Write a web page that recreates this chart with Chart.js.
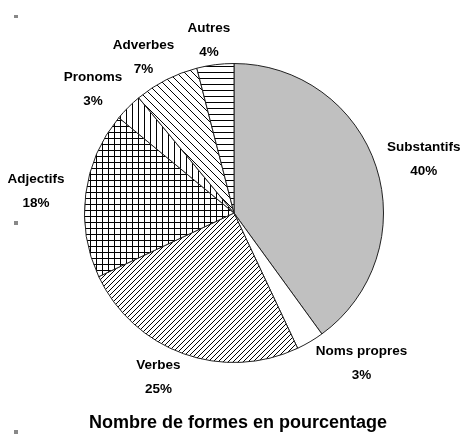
<!DOCTYPE html>
<html>
<head>
<meta charset="utf-8">
<script src="https://cdn.jsdelivr.net/npm/chart.js@4.4.0/dist/chart.umd.min.js"></script>
<style>
  html, body { margin: 0; padding: 0; background: #fff; }
  #wrap { width: 467px; height: 434px; }
</style>
</head>
<body>
<div id="wrap"><canvas id="myChart" width="467" height="434"></canvas></div>
<script>
const categories = ['Substantifs', 'Noms propres', 'Verbes', 'Adjectifs', 'Pronoms', 'Adverbes', 'Autres'];
const values = [40, 3, 25, 18, 3, 7, 4];
const chartTitle = 'Nombre de formes en pourcentage';

// hatch patterns, like the old black & white office charts
function makePattern(size, draw) {
  const c = document.createElement('canvas');
  c.width = size;
  c.height = size;
  const g = c.getContext('2d');
  g.fillStyle = '#fff';
  g.fillRect(0, 0, size, size);
  g.strokeStyle = '#000';
  g.lineWidth = 1;
  draw(g, size);
  return g.createPattern(c, 'repeat');
}

const diagUp = (g, s) => {
  g.beginPath();
  g.moveTo(0, s); g.lineTo(s, 0);
  g.moveTo(-1, 1); g.lineTo(1, -1);
  g.moveTo(s - 1, s + 1); g.lineTo(s + 1, s - 1);
  g.stroke();
};
const diagDown = (g, s) => {
  g.beginPath();
  g.moveTo(0, 0); g.lineTo(s, s);
  g.moveTo(-1, s - 1); g.lineTo(1, s + 1);
  g.moveTo(s - 1, -1); g.lineTo(s + 1, 1);
  g.stroke();
};
const vert = (g, s) => { g.beginPath(); g.moveTo(0.5, 0); g.lineTo(0.5, s); g.stroke(); };
const horiz = (g, s) => { g.beginPath(); g.moveTo(0, 0.5); g.lineTo(s, 0.5); g.stroke(); };
const grid = (g, s) => { vert(g, s); horiz(g, s); };

const fills = [
  '#c0c0c0',
  '#ffffff',
  makePattern(5, diagUp),
  makePattern(6, grid),
  makePattern(6, vert),
  makePattern(8, diagDown),
  makePattern(6, horiz)
];

// distance from pie centre to the nearest point of a text box
function boxDist(px, py, x0, x1, y0, y1) {
  const nx = Math.max(x0, Math.min(px, x1));
  const ny = Math.max(y0, Math.min(py, y1));
  return Math.hypot(nx - px, ny - py);
}

const outsideLabels = {
  id: 'outsideLabels',
  afterDatasetsDraw(chart) {
    const ctx = chart.ctx;
    const meta = chart.getDatasetMeta(0);
    const total = values.reduce((a, b) => a + b, 0);
    ctx.save();
    ctx.font = 'bold 13.5px "Liberation Sans", Arial, sans-serif';
    ctx.fillStyle = '#000';
    ctx.textAlign = 'center';
    ctx.textBaseline = 'middle';
    meta.data.forEach((arc, i) => {
      const p = arc.getProps(['x', 'y', 'startAngle', 'endAngle', 'outerRadius'], true);
      const mid = (p.startAngle + p.endAngle) / 2;
      const dx = Math.cos(mid), dy = Math.sin(mid);
      const pct = Math.round(values[i] / total * 100) + '%';
      const lines = [[categories[i], -12], [pct, 12]];
      let cx = p.x + dx * (p.outerRadius + 50);
      const cy = p.y + dy * (p.outerRadius + 25);
      // slide sideways until no line touches the pie
      const hits = () => lines.some(([t, off]) => {
        const w = ctx.measureText(t).width / 2;
        return boxDist(p.x, p.y, cx - w, cx + w, cy + off - 7, cy + off + 7) < p.outerRadius + 5;
      });
      let n = 0;
      while (hits() && n++ < 200) cx += dx >= 0 ? 1 : -1;
      lines.forEach(([t, off]) => ctx.fillText(t, cx, cy + off));
    });
    ctx.font = 'bold 18px "Liberation Sans", Arial, sans-serif';
    ctx.fillText(chartTitle, 238, 423);
    // small grey marks at the left edge of the original
    ctx.fillStyle = '#888';
    ctx.fillRect(14, 15, 4, 3);
    ctx.fillRect(14, 221, 4, 4);
    ctx.fillRect(14, 430, 4, 4);
    ctx.restore();
  }
};

const ctx = document.getElementById('myChart').getContext('2d');
new Chart(ctx, {
  type: 'pie',
  data: {
    labels: categories,
    datasets: [{
      data: values,
      backgroundColor: fills,
      borderColor: '#222',
      borderWidth: 1
    }]
  },
  options: {
    responsive: false,
    animation: false,
    layout: { padding: { left: 84, right: 83, top: 63, bottom: 71 } },
    plugins: {
      legend: { display: false },
      tooltip: { enabled: false },
      title: { display: false }
    }
  },
  plugins: [outsideLabels]
});
</script>
</body>
</html>
